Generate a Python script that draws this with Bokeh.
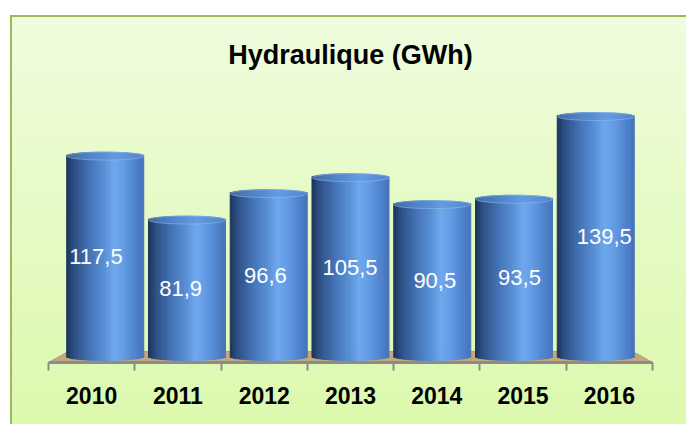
import math
from bokeh.plotting import figure
from bokeh.models import Range1d, LinearAxis, FixedTicker, ColumnDataSource
from bokeh.core.properties import value
from bokeh.embed import file_html
from bokeh.resources import INLINE

# ---- data ----
years = ["2010", "2011", "2012", "2013", "2014", "2015", "2016"]
gwh = [117.5, 81.9, 96.6, 105.5, 90.5, 93.5, 139.5]
title_text = "Hydraulique (GWh)"

FONT = "'Liberation Sans Narrow', 'Arial Narrow', 'Liberation Sans', Arial, sans-serif"
n = len(years)
centers = [i + 0.5 for i in range(n)]

p = figure(width=686, height=424, output_backend="svg", toolbar_location=None,
           x_axis_type=None, y_axis_type=None,
           x_range=Range1d(0, n), y_range=Range1d(2.65, 148.4),
           min_border_left=48, min_border_right=34, min_border_top=100, min_border_bottom=62,
           title=title_text)
p.extra_x_ranges = {"back": Range1d(-0.194, n + 0.194), "mid": Range1d(-0.06, n + 0.07)}
p.grid.visible = False
p.outline_line_color = None
p.border_fill_alpha = 0
p.background_fill_alpha = 0
p.styles = {
    "background": (
        "linear-gradient(to right, #ffffff 0px, #ffffff 10px, #9bbb59 10px, #9bbb59 12px, rgba(0,0,0,0) 12px) 0px 15px / 100% 100% no-repeat, "
        "linear-gradient(to bottom, #ffffff 0px, #ffffff 15px, #9bbb59 15px, #9bbb59 17px, #f0fcde 17px, #e6fbc8 45%, #dcf9ae 100%)"
    )
}

p.title.align = "center"
p.title.standoff = 62
p.title.text_font = FONT
p.title.text_font_size = "27px"
p.title.text_font_style = "bold"
p.title.text_color = "#000000"

# ---- floor ----
base = 6.0
y_back = 8.8
inset = 0.23
p.patch(x=[0, n, n - inset, inset], y=[p.y_range.start, p.y_range.start, y_back, y_back],
        fill_color="#c2a87c", line_color="#a89a80", line_width=1)

# ---- cylinders (gradient via vertical strips) ----
stops = [(0.00, (28, 50, 88)), (0.10, (45, 80, 132)), (0.30, (68, 115, 182)),
         (0.50, (90, 145, 215)), (0.62, (112, 168, 238)), (0.75, (98, 155, 228)),
         (0.90, (80, 130, 205)), (1.00, (70, 115, 185))]

def grad(t):
    for (t0, c0), (t1, c1) in zip(stops[:-1], stops[1:]):
        if t0 <= t <= t1:
            f = (t - t0) / (t1 - t0)
            return "#%02x%02x%02x" % tuple(int(round(a + (b - a) * f)) for a, b in zip(c0, c1))
    return "#%02x%02x%02x" % stops[-1][1]

bw = 0.942
N = 30
eh = 2.2
for k in range(N):
    off = -bw / 2 + (k + 0.5) * bw / N
    u = 2 * off / bw
    curve = eh * math.sqrt(max(0.0, 1 - u * u))
    col = grad((k + 0.5) / N)
    src = ColumnDataSource(dict(x=[c + off for c in centers],
                                top=[v + curve for v in gwh],
                                bottom=[base - curve for _ in gwh]))
    p.vbar(x="x", top="top", bottom="bottom", width=bw / N, source=src,
           x_range_name="back", fill_color=col, line_color=col, line_width=1)

p.ellipse(x=centers, y=gwh, width=bw, height=8, height_units="screen",
          x_range_name="back", fill_color="#5d8fd6", fill_alpha=0.55,
          line_color="#9cc2f0", line_alpha=0.5, line_width=1)

# ---- value labels ----
labels = [f"{v:.1f}".replace(".", ",") for v in gwh]
p.text(x=centers, y=[(v + base) / 2 for v in gwh], text=labels, x_range_name="mid",
       text_color="white", text_font=value(FONT), text_font_size="22px",
       text_align="center", text_baseline="middle")

# ---- x axis ----
ax = LinearAxis(ticker=FixedTicker(ticks=centers, minor_ticks=list(range(n + 1))))
ax.major_label_overrides = {c: y for c, y in zip(centers, years)}
ax.axis_line_color = "#8c8c8c"
ax.axis_line_width = 3
ax.major_tick_line_color = None
ax.major_tick_out = 0
ax.major_tick_in = 0
ax.minor_tick_line_color = "#8c8c8c"
ax.minor_tick_line_width = 2
ax.minor_tick_out = 8
ax.minor_tick_in = 0
ax.major_label_standoff = 16
ax.major_label_text_font = FONT
ax.major_label_text_font_size = "23px"
ax.major_label_text_font_style = "bold"
ax.major_label_text_color = "#000000"
p.add_layout(ax, "below")

open("out.html", "w").write(file_html(p, INLINE))
